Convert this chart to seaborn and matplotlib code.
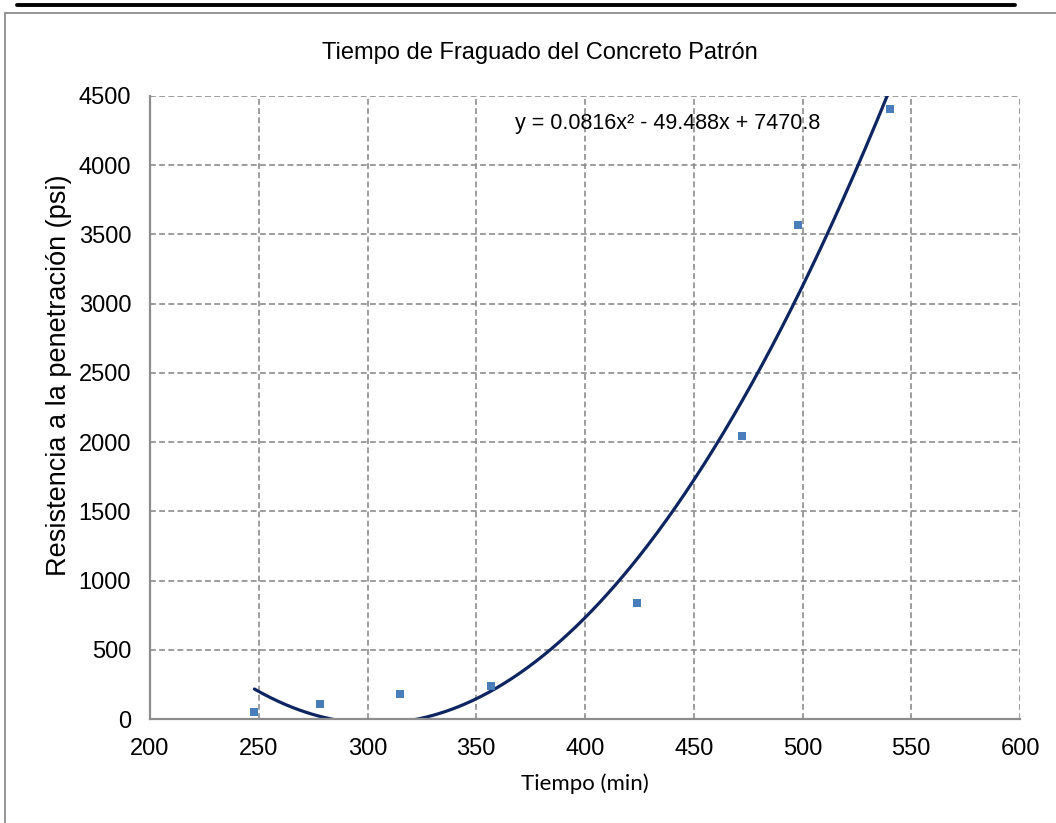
import numpy as np
import pandas as pd
import matplotlib
matplotlib.use("Agg")
import matplotlib.pyplot as plt
import seaborn as sns
from matplotlib.lines import Line2D
from matplotlib.patches import Rectangle

# Data
tiempo = [248, 278, 315, 357, 424, 472, 498, 540]
resistencia = [50, 108, 182, 240, 838, 2044, 3565, 4405]
# Trendline coefficients displayed on the chart (a*x^2 + b*x + c)
coef = [0.0816, -49.488, 7470.8]
x_ticks = [200, 250, 300, 350, 400, 450, 500, 550, 600]
y_ticks = [0, 500, 1000, 1500, 2000, 2500, 3000, 3500, 4000, 4500]

sns.set_style("white")
plt.rcParams['font.family'] = ['Liberation Sans', 'DejaVu Sans']
plt.rcParams['text.color'] = 'black'
plt.rcParams['axes.labelcolor'] = 'black'

fig = plt.figure(figsize=(10.56, 8.23), dpi=100)
ax = fig.add_axes([150/1056, 1-719/823, 870/1056, 623/823])

df = pd.DataFrame({"t": tiempo, "r": resistencia})
xs = np.linspace(min(tiempo), max(tiempo), 400)
trend = pd.DataFrame({"t": xs, "r": np.polyval(coef, xs)})

sns.lineplot(data=trend, x="t", y="r", ax=ax, color="#0D2560", linewidth=2.3, zorder=3)
sns.scatterplot(data=df, x="t", y="r", ax=ax, marker="s", s=36, color="#4A7EBB",
                edgecolor="#4A7EBB", linewidth=0, zorder=4)

ax.set_xlim(200, 600)
ax.set_ylim(0, 4500)
ax.set_xticks(x_ticks)
ax.set_yticks(y_ticks)
ax.grid(True, linestyle=(0, (3.5, 2)), color='#8C8C8C', linewidth=1.2)
for s in ['top', 'right']:
    ax.spines[s].set_visible(False)
for s in ['left', 'bottom']:
    ax.spines[s].set_color('#8C8C8C')
    ax.spines[s].set_linewidth(1.6)
    ax.spines[s].set_zorder(5)
ax.tick_params(axis='both', labelsize=17, labelcolor='black', length=4.5, width=1.6,
               color='#8C8C8C', direction='out', pad=9)

ax.set_xlabel("Tiempo (min)", fontsize=16, family=['Lato', 'DejaVu Sans'], labelpad=10,
              color='black')
ax.set_ylabel("Resistencia a la penetración (psi)", fontsize=19.5, color='black')
ax.yaxis.set_label_coords(-0.09, 0.552)
ax.set_title("Tiempo de Fraguado del Concreto Patrón", fontsize=17, pad=27, x=0.448,
             color='black')

ax.text(438, 4300, "y = 0.0816x² - 49.488x + 7470.8", fontsize=15.5, ha='center', va='center',
        zorder=6, color='black')

# Chart frame and page line
fig.patches.append(Rectangle((5/1056, -0.1), 1.2, 1 - 13/823 + 0.1, transform=fig.transFigure,
                             fill=False, edgecolor='#8C8C8C', linewidth=1.3))
fig.lines.append(Line2D([17/1056, 1015/1056], [1-5/823, 1-5/823], transform=fig.transFigure,
                        color='black', linewidth=2.8))

fig.savefig("out.png", dpi=100)
